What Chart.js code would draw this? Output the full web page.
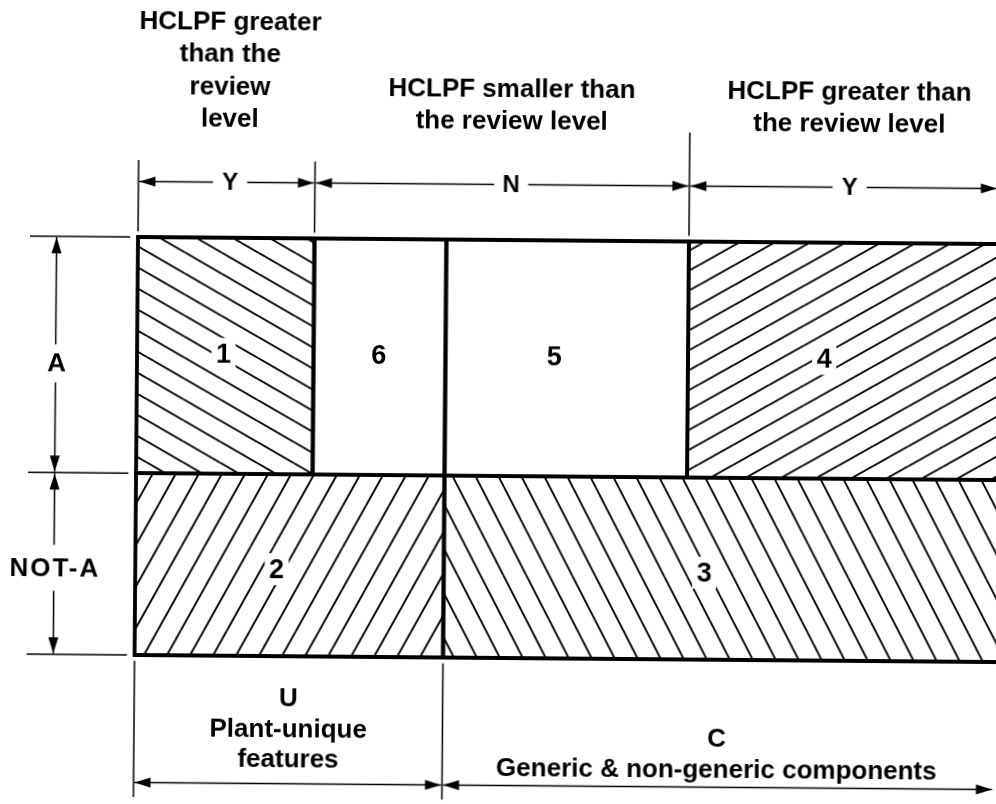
<!DOCTYPE html>
<html>
<head>
<meta charset="utf-8">
<script src="https://cdn.jsdelivr.net/npm/chart.js@4.4.1/dist/chart.umd.min.js"></script>
<style>
html, body { margin: 0; padding: 0; background: #fff; }
#wrap { width: 996px; height: 804px; overflow: hidden; }
/* the scanned figure is turned a little clockwise */
#chScreen { display: block; transform: rotate(0.47deg); transform-origin: 138px 237px; }
</style>
</head>
<body>
<div id="wrap"><canvas id="chScreen" width="1012" height="820"></canvas></div>
<script>
/* screening diagram: x 0-100 across the box, y 0-100 bottom to top */

// regions 1..6
var regionNames  = ['1', '2', '3', '4', '5', '6'];
var regionLeft   = [0,    0,    36.0, 64.3, 36.0, 20.6];
var regionRight  = [20.6, 36.0, 102,  102,  64.3, 36.0];
var regionBottom = [43.5, 0,    0,    43.5, 43.5, 43.5];
var regionTop    = [100,  43.5, 43.5, 100,  100,  100];
var labelX = [10.1, 16.5, 66.4, 80.2, 48.7, 28.2];
var labelY = [72.2, 20.8, 20.8, 72.2, 72.2, 72.2];

// top: HCLPF against the review level
var levelFrom  = [0, 20.6, 64.3];
var levelTo    = [20.6, 64.3, 100.3];
var levelCode  = ['Y', 'N', 'Y'];
var levelCodeX = [10.7, 43.5, 83.0];
var levelText  = [
  ['HCLPF greater', 'than the', 'review', 'level'],
  ['HCLPF smaller than', 'the review level'],
  ['HCLPF greater than', 'the review level']
];
var levelTextX = [10.6, 43.5, 82.9];

// left: A / NOT-A
var rowFrom  = [100, 43.5];
var rowTo    = [43.5, 0];
var rowName  = ['A', 'NOT-A'];
var rowNameY = [69.6, 20.7];

// bottom: U / C
var groupFrom = [0, 36.0];
var groupTo   = [36.0, 100.3];
var groupText = [
  ['U', 'Plant-unique', 'features'],
  ['C', 'Generic & non-generic components']
];

// hatch styles (tile w, h, direction)
var hatchStyle = [[37, 21, 'back'], [23, 42, 'fwd'], [23, 44, 'back'], [35, 20, 'fwd'], null, null];

function hatch(w, h, dir) {
  var c = document.createElement('canvas');
  c.width = w; c.height = h;
  var g = c.getContext('2d');
  g.strokeStyle = '#000';
  g.lineWidth = 1.9;
  for (var i = -1; i <= 1; i++) {
    for (var j = -1; j <= 1; j++) {
      g.beginPath();
      if (dir === 'back') { g.moveTo(i * w, j * h); g.lineTo(i * w + w, j * h + h); }
      else { g.moveTo(i * w, j * h + h); g.lineTo(i * w + w, j * h); }
      g.stroke();
    }
  }
  return g.createPattern(c, 'repeat');
}

var fonts = {
  head: 'bold 26px "Liberation Sans", Arial, sans-serif',
  code: 'bold 24px "Liberation Sans", Arial, sans-serif',
  num: 'bold 27px "Liberation Sans", Arial, sans-serif',
  foot: 'bold 26px "Liberation Sans", Arial, sans-serif'
};

// text, dimension lines and ticks round the box
var overlay = {
  id: 'overlay',
  afterDraw: function (chart) {
    var ctx = chart.ctx, xs = chart.scales.x, ys = chart.scales.y;
    function X(v) { return xs.getPixelForValue(v); }
    function Y(v) { return ys.getPixelForValue(v); }

    function head(tx, ty, dx, dy) {
      var L = 16, W = 5;
      ctx.beginPath();
      ctx.moveTo(tx, ty);
      ctx.lineTo(tx - dx * L - dy * W, ty - dy * L + dx * W);
      ctx.lineTo(tx - dx * L + dy * W, ty - dy * L - dx * W);
      ctx.closePath();
      ctx.fill();
    }
    function seg(x1, y1, x2, y2) {
      ctx.beginPath(); ctx.moveTo(x1, y1); ctx.lineTo(x2, y2); ctx.stroke();
    }
    function hDim(x1, x2, y, cx, gap) {
      if (gap) { seg(x1, y, cx - gap, y); seg(cx + gap, y, x2, y); }
      else seg(x1, y, x2, y);
      head(x1, y, -1, 0); head(x2, y, 1, 0);
    }
    function vDim(y1, y2, x, cy, gap) {
      seg(x, y1, x, cy - gap); seg(x, cy + gap, x, y2);
      head(x, y1, 0, -1); head(x, y2, 0, 1);
    }

    ctx.save();
    ctx.fillStyle = '#000';
    ctx.strokeStyle = '#000';
    ctx.textAlign = 'center';

    // region numbers
    ctx.font = fonts.num;
    ctx.textBaseline = 'middle';
    regionNames.forEach(function (n, i) {
      var cx = X(labelX[i]), cy = Y(labelY[i]);
      ctx.fillStyle = '#fff';
      ctx.fillRect(cx - 12, cy - 16, 24, 32);
      ctx.fillStyle = '#000';
      ctx.fillText(n, cx, cy + 1);
    });

    // headers
    ctx.font = fonts.head;
    ctx.textBaseline = 'alphabetic';
    levelText.forEach(function (lines, i) {
      var n = lines.length;
      lines.forEach(function (t, k) {
        ctx.fillText(t, X(levelTextX[i]), Y(126.6 + (n - 1 - k) * 7.7));
      });
    });

    // top dimension
    ctx.lineWidth = 1.5;
    var tickTop = [118.4, 118.4, 126.1];
    levelFrom.forEach(function (v, i) { seg(X(v), Y(tickTop[i]), X(v), Y(101.4)); });
    ctx.font = fonts.code;
    ctx.textBaseline = 'middle';
    levelCode.forEach(function (c, i) {
      var y = Y(113.3), cx = X(levelCodeX[i]);
      hDim(X(levelFrom[i]) + 1, X(levelTo[i]) - 1, y, cx, 17);
      ctx.fillText(c, cx, y + 1);
    });

    // left dimension
    [100, 43.5, 0].forEach(function (v) { seg(X(-12.6), Y(v), X(-0.9), Y(v)); });
    rowName.forEach(function (r, i) {
      var x = X(-9.5), cy = Y(rowNameY[i]);
      vDim(Y(rowFrom[i]) + 1, Y(rowTo[i]) - 1, x, cy, r.length > 1 ? 23 : 19);
      if (r.length > 1) { ctx.font = 'bold 26px "Liberation Sans", Arial, sans-serif'; ctx.letterSpacing = '2px'; }
      else ctx.font = 'bold 26px "Liberation Sans", Arial, sans-serif';
      ctx.fillText(r, x + 1, cy + 1);
      ctx.letterSpacing = '0px';
    });

    // bottom dimension
    groupFrom.forEach(function (v) { seg(X(v), Y(-1.4), X(v), Y(-34)); });
    ctx.font = fonts.foot;
    ctx.textBaseline = 'alphabetic';
    var lastBase = [-26.6, -28.2];
    groupText.forEach(function (lines, i) {
      hDim(X(groupFrom[i]) + 1, X(groupTo[i]) - 1, Y(-30.5), 0, 0);
      var cx = X((groupFrom[i] + Math.min(groupTo[i], 100)) / 2);
      var n = lines.length;
      lines.forEach(function (t, k) {
        ctx.fillText(t, cx, Y(lastBase[i] + (n - 1 - k) * 7.3));
      });
    });
    ctx.restore();
  }
};

var chScreen = document.getElementById('chScreen');
if (chScreen) {
  new Chart(chScreen, {
    type: 'line',
    data: {
      datasets: regionNames.map(function (name, i) {
        var hs = hatchStyle[i];
        return {
          label: 'Region ' + name,
          data: [
            {x: regionLeft[i], y: regionBottom[i]},
            {x: regionRight[i], y: regionBottom[i]},
            {x: regionRight[i], y: regionTop[i]},
            {x: regionLeft[i], y: regionTop[i]},
            {x: regionLeft[i], y: regionBottom[i]}
          ],
          fill: 'shape',
          backgroundColor: hs ? hatch(hs[0], hs[1], hs[2]) : 'rgba(255,255,255,0)',
          borderColor: '#000',
          borderWidth: 3.8,
          borderCapStyle: 'square',
          borderJoinStyle: 'miter',
          pointRadius: 0,
          pointHoverRadius: 0,
          tension: 0,
          clip: false
        };
      })
    },
    options: {
      responsive: false,
      animation: false,
      events: [],
      layout: { padding: { left: 138, right: 0, top: 237, bottom: 165 } },
      scales: {
        x: { type: 'linear', min: 0, max: 102, display: false },
        y: { type: 'linear', min: 0, max: 100, display: false }
      },
      plugins: {
        legend: { display: false },
        tooltip: { enabled: false },
        filler: { drawTime: 'beforeDatasetsDraw' }
      }
    },
    plugins: [overlay]
  });
}
</script>
</body>
</html>
